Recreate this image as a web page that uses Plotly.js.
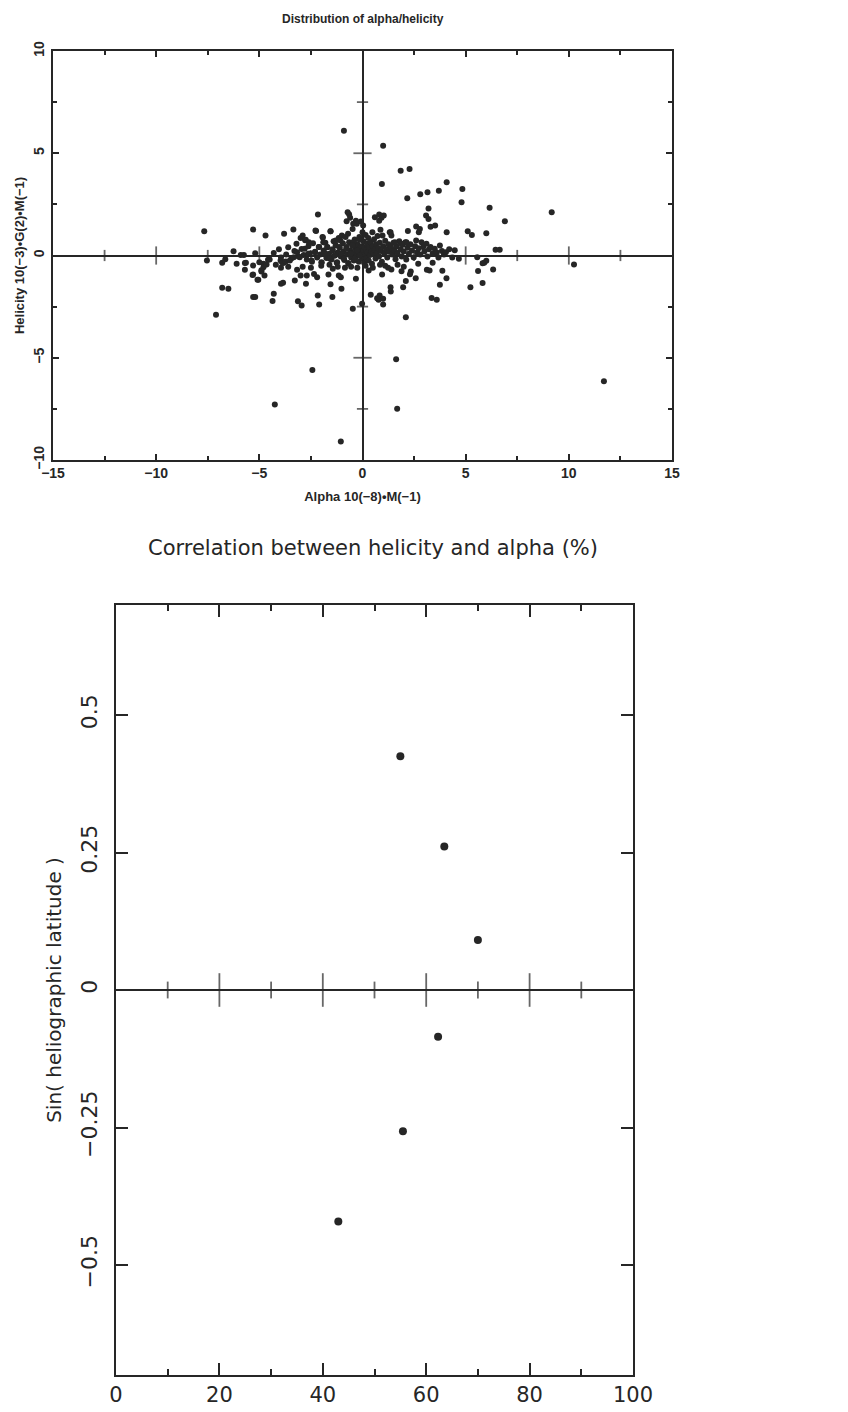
<!DOCTYPE html>
<html>
<head>
<meta charset="utf-8">
<script src="https://cdn.plot.ly/plotly-3.0.1.min.js"></script>
<style>html,body{margin:0;padding:0;background:#fff;}#chart{width:848px;height:1412px;}</style>
</head>
<body>
<div id="chart"></div>
<script>
// ---- Top panel: Distribution of alpha/helicity ----
const alphaX = [
-0.9,1.0,1.85,2.28,0.94,4.08,4.84,3.15,2.8,3.7,2.17,4.8,3.2,6.16,9.17,6.9,-2.16,-0.72,-0.65,-7.67,
-5.3,-4.7,-3.8,-3.35,5.1,5.3,6.0,4.08,3.3,3.08,3.2,2.2,2.6,2.78,2.73,3.52,6.45,6.65,4.47,4.67,
5.56,5.6,5.9,6.0,5.82,6.33,5.82,5.23,10.25,11.7,1.63,1.68,-1.05,-2.43,-4.25,-7.1,2.1,-0.47,-0.02,0.4,
0.83,0.78,1.0,1.37,1.36,1.97,2.1,3.35,3.6,3.75,4.07,3.87,3.12,3.25,2.58,2.34,2.3,1.89,1.4,1.24,
0.95,0.3,-0.32,-1.02,-1.46,-2.17,-2.1,-2.95,-3.13,-4.3,-4.36,-5.3,-5.2,-5.05,-5.3,-4.75,-5.7,-5.7,-6.1,-6.8,
-6.5,-6.8,-6.65,-7.54,-6.25,-5.9,-5.75,-5.2,-4.8,-4.8,-4.9,-4.58,-3.9,-3.8,-3.85,-3.95,-3.28,-3.0,-2.7,-3.17,
-2.35,-2.2,-1.65,-1.15,-1.05,-1.44,-2.74,-1.55,
-4.3,-4.05,-3.95,-3.7,-3.6,-3.45,-3.3,-3.2,-3.1,-3.0,-2.95,-2.85,-2.78,-2.7,-2.62,-2.55,-2.45,-2.4,-2.3,-2.25,
-2.2,-2.12,-2.05,-1.98,-1.92,-1.88,-1.8,-1.75,-1.7,-1.62,-1.55,-1.5,-1.45,-1.4,-1.35,-1.3,-1.25,-1.2,-1.15,-1.1,
-1.05,-1.0,-0.95,-0.92,-0.88,-0.82,-0.78,-0.75,-0.7,-0.68,-0.65,-0.6,-0.55,-0.5,-0.48,-0.45,-0.42,-0.38,-0.35,-0.3,
-0.28,-0.25,-0.22,-0.18,-0.15,-0.12,-0.1,-0.08,-0.05,-0.02,0.0,0.02,0.05,0.08,0.1,0.12,0.15,0.18,0.2,0.22,
0.25,0.28,0.3,0.33,0.36,0.4,0.43,0.46,0.48,0.5,0.53,0.56,0.6,0.63,0.66,0.7,0.73,0.76,0.8,0.84,
0.87,0.9,0.94,0.97,1.0,1.05,1.1,1.15,1.2,1.25,1.3,1.32,1.38,1.4,1.45,1.5,1.55,1.6,1.65,1.7,
1.78,1.85,1.9,1.95,2.0,2.08,2.12,2.18,2.25,2.32,2.4,2.48,2.55,2.6,2.65,2.72,2.8,2.86,2.94,3.0,
3.1,3.15,3.22,3.3,3.4,3.5,3.6,3.68,3.75,3.85,3.95,4.04,4.2,4.35,
-2.9,-2.5,-2.0,-1.6,-1.2,-0.85,-0.55,-0.25,0.15,0.5,0.85,1.1,1.7,2.0,2.7,3.4,-3.6,-4.2,-3.95,
0.6,0.81,0.92,1.03,0.81,-0.77,-0.6,-0.32,-0.45,0.03,1.36,-1.55,-2.28,-1.94,-2.9,-2.75,-2.6,-1.9,-1.3,-1.07,
-0.45,-0.13,2.13,1.89,1.57,
-5.65,-5.3,-5.0,-5.33,-5.09,-4.9,-4.65,-4.5,-3.97,-3.84,-3.72,-3.52,-3.33,-3.17,-3.04,-2.8,-2.63,-2.47,-2.3,-2.1,
-1.99,-1.83,-1.71,-1.58,-1.45,-1.34,-1.23,-1.13,-1.02,-0.9,-0.78,-0.69,-0.58,-0.48,-0.37,-0.26,-0.13,0.71,1.0
];
const helicityY = [
6.1,5.37,4.15,4.23,3.5,3.58,3.25,3.09,3.0,3.17,2.8,2.6,2.3,2.34,2.11,1.67,2.0,2.12,2.02,1.19,
1.27,0.98,1.06,1.27,1.19,1.0,1.09,1.14,1.4,1.95,1.78,1.2,1.42,1.3,1.14,1.47,0.28,0.28,0.26,-0.16,
-0.08,-0.76,-0.36,-0.26,-0.38,-0.68,-1.35,-1.55,-0.44,-6.15,-5.07,-7.5,-9.1,-5.6,-7.28,-2.9,-3.02,-2.6,-2.36,-1.92,
-1.95,-2.16,-2.4,-1.76,-1.55,-1.55,-1.25,-2.08,-2.16,-1.43,-1.11,-0.75,-0.7,-0.73,-1.11,-0.78,-0.92,-0.77,-0.68,-0.6,
-0.93,-0.73,-1.14,-1.63,-2.03,-1.95,-2.39,-2.44,-2.24,-1.87,-2.23,-2.03,-2.03,-1.19,-0.93,-0.98,-0.7,-0.37,-0.4,-1.58,
-1.63,-0.36,-0.18,-0.24,0.21,0.02,0.02,0.11,-0.4,-0.57,-0.72,-0.21,-0.33,-0.33,-1.33,-1.38,-1.22,-0.98,-0.98,-0.7,
-0.9,-1.06,-0.93,-0.98,-1.06,-0.65,-1.38,-1.41,
0.12,0.3,-0.1,0.05,0.4,-0.15,0.22,0.58,-0.05,0.85,0.32,0.02,0.75,-0.2,0.45,0.1,-0.3,0.6,0.18,1.2,
-0.1,0.42,0.05,-0.35,0.88,0.25,0.62,-0.12,0.4,0.08,1.18,-0.2,0.3,0.7,0.0,0.5,-0.35,0.15,0.85,0.38,
-0.05,0.98,0.6,0.2,-0.22,0.9,0.42,0.05,1.06,-0.4,0.65,0.25,-0.1,0.5,1.3,0.12,-0.25,0.78,0.35,-0.05,
1.55,0.55,0.18,-0.3,0.9,0.3,0.02,1.66,0.45,-0.15,1.14,0.22,0.7,-0.35,0.4,0.05,1.0,0.25,-0.12,0.58,
0.15,0.85,-0.25,0.38,0.02,0.65,0.2,-0.4,1.14,0.45,0.1,0.8,0.28,-0.15,0.55,0.12,0.95,0.35,-0.05,0.62,
1.26,0.22,-0.3,0.98,0.45,0.1,0.72,0.3,-0.1,0.55,0.18,1.14,0.4,0.98,0.05,0.62,0.25,-0.18,0.45,0.12,
0.7,0.3,-0.05,0.52,0.2,0.65,-0.2,0.38,0.08,0.55,0.25,-0.1,0.45,0.73,0.15,0.35,0.05,0.65,0.41,0.2,
0.57,-0.05,0.3,0.41,0.1,0.33,0.15,-0.1,0.49,0.22,0.05,0.16,0.3,-0.1,
-0.55,-0.6,-0.5,-0.45,-0.55,-0.6,-0.55,-0.6,-0.5,-0.6,-0.45,-0.5,-0.45,-0.55,-0.4,-0.35,-0.55,-0.45,-0.6,
1.87,2.0,1.84,1.96,1.7,1.68,1.84,1.7,1.55,1.47,1.14,1.19,1.22,0.9,0.98,0.77,0.65,0.65,0.73,0.73,
0.65,0.77,0.65,0.57,0.65,
-0.36,-0.49,-0.33,-0.95,-1.19,-0.78,-0.44,-0.2,-0.24,-0.37,-0.29,-0.24,-0.08,0.16,-0.08,0.33,0.08,-0.24,0.16,0.41,
-0.33,0.11,0.41,-0.16,0.24,0.0,-0.33,0.41,0.08,-0.16,0.33,-0.37,0.08,0.49,-0.16,0.24,0.0,-2.09,-2.12
];
const topXTickVals = [-15,-10,-5,0,5,10,15];
const topYTickVals = [-10,-5,0,5,10];
const topXAxisTicks = [-12.5,-10,-7.5,-5,-2.5,2.5,5,7.5,10,12.5];
const topYAxisTicks = [-7.5,-5,-2.5,2.5,5,7.5];

// ---- Bottom panel: Correlation between helicity and alpha (%) ----
const corrPercent = [55.0, 63.5, 70.0, 62.3, 55.5, 43.0];
const sinLatitude = [0.425, 0.261, 0.091, -0.085, -0.257, -0.421];
const botXTickVals = [0,20,40,60,80,100];
const botYTickVals = [-0.5,-0.25,0,0.25,0.5];
const botYTickText = ['\u22120.5','\u22120.25','0','0.25','0.5'];
const botZeroTicks = [10,20,30,40,50,60,70,80,90];

const INK = '#262626';
const W = 848, H = 1412;
const px = v => v / W, py = v => 1 - v / H;

const boldFont = {family:'Liberation Sans, Arial, sans-serif', size:14, color:INK, weight:'bold'};

const traces = [
  {x: alphaX, y: helicityY, type:'scatter', mode:'markers', xaxis:'x', yaxis:'y',
   marker:{size:6, color:INK}, hoverinfo:'x+y', showlegend:false},
  // ticks drawn across the zero lines
  {x: topXAxisTicks, y: topXAxisTicks.map(()=>0), type:'scatter', mode:'markers', xaxis:'x', yaxis:'y',
   marker:{symbol:'line-ns-open', color:INK, size: topXAxisTicks.map(v=> v%5===0 ? 13 : 8), line:{color:INK, width:1.8}},
   hoverinfo:'skip', showlegend:false},
  {x: topYAxisTicks.map(()=>0), y: topYAxisTicks, type:'scatter', mode:'markers', xaxis:'x', yaxis:'y',
   marker:{symbol:'line-ew-open', color:INK, size: topYAxisTicks.map(v=> v%5===0 ? 13 : 8), line:{color:INK, width:1.8}},
   hoverinfo:'skip', showlegend:false},
  {x: corrPercent, y: sinLatitude, type:'scatter', mode:'markers', xaxis:'x2', yaxis:'y2',
   marker:{size:8, color:INK}, hoverinfo:'x+y', showlegend:false},
  {x: botZeroTicks, y: botZeroTicks.map(()=>0), type:'scatter', mode:'markers', xaxis:'x2', yaxis:'y2',
   marker:{symbol:'line-ns-open', color:INK, size: botZeroTicks.map(v=> v%20===0 ? 24 : 12), line:{color:INK, width:1.8}},
   hoverinfo:'skip', showlegend:false}
];

const layout = {
  width: W, height: H,
  margin:{l:0,r:0,t:0,b:0},
  paper_bgcolor:'#ffffff', plot_bgcolor:'#ffffff',
  showlegend:false,
  xaxis:{domain:[px(53), px(672)], anchor:'y', range:[-15,15], tickvals: topXTickVals,
    ticks:'inside', ticklen:6, tickwidth:1.6, tickcolor:INK,
    minor:{dtick:2.5, ticks:'inside', ticklen:4, tickwidth:1.6, tickcolor:INK},
    showline:true, linewidth:2, linecolor:INK, mirror:'ticks', showgrid:false,
    zeroline:true, zerolinewidth:2, zerolinecolor:INK,
    tickfont: boldFont, ticklabelstandoff: -1,
    title:{text:'Alpha 10(\u22128)\u2022M(\u22121)', font:{family:'Liberation Sans, Arial, sans-serif', size:13, color:INK, weight:'bold'}, standoff: 12}},
  yaxis:{domain:[py(460), py(51)], anchor:'x', range:[-10,10], tickvals: topYTickVals,
    ticks:'inside', ticklen:6, tickwidth:1.6, tickcolor:INK,
    minor:{dtick:2.5, ticks:'inside', ticklen:4, tickwidth:1.6, tickcolor:INK},
    showline:true, linewidth:2, linecolor:INK, mirror:'ticks', showgrid:false,
    zeroline:true, zerolinewidth:2, zerolinecolor:INK,
    tickangle:-90, tickfont: boldFont, ticklabelstandoff: 1,
    title:{text:'Helicity 10(\u22123)\u2022G(2)\u2022M(\u22121)', font:{family:'Liberation Sans, Arial, sans-serif', size:13, color:INK, weight:'bold'}, standoff: 4}},
  xaxis2:{domain:[px(116), px(633)], anchor:'y2', range:[0,100], tickvals: botXTickVals,
    ticks:'inside', ticklen:12, tickwidth:1.6, tickcolor:INK,
    minor:{dtick:10, ticks:'inside', ticklen:6, tickwidth:1.6, tickcolor:INK},
    showline:true, linewidth:2, linecolor:INK, mirror:'ticks', showgrid:false,
    zeroline:false,
    tickfont:{family:'DejaVu Sans, sans-serif', size:21, color:INK}, ticklabelstandoff: 0},
  yaxis2:{domain:[py(1375), py(605)], anchor:'x2', range:[-0.7,0.7], tickvals: botYTickVals, ticktext: botYTickText,
    ticks:'inside', ticklen:12, tickwidth:1.6, tickcolor:INK,
    showline:true, linewidth:2, linecolor:INK, mirror:'ticks', showgrid:false,
    zeroline:true, zerolinewidth:2, zerolinecolor:INK,
    tickangle:-90, tickfont:{family:'DejaVu Sans, sans-serif', size:22, color:INK}, ticklabelstandoff: 8,
    title:{text:'Sin( heliographic latitude )', font:{family:'DejaVu Sans, sans-serif', size:20, color:INK}, standoff: 10}},
  annotations:[
    {text:'Distribution of alpha/helicity', xref:'paper', yref:'paper', x:px(363), y:py(19),
     xanchor:'center', yanchor:'middle', showarrow:false,
     font:{family:'Liberation Sans, Arial, sans-serif', size:12, color:INK, weight:'bold'}},
    {text:'Correlation between helicity and alpha (%)', xref:'paper', yref:'paper', x:px(373), y:py(548),
     xanchor:'center', yanchor:'middle', showarrow:false,
     font:{family:'DejaVu Sans, sans-serif', size:21, color:INK}}
  ]
};

Plotly.newPlot('chart', traces, layout, {displayModeBar:false, staticPlot:false});
</script>
</body>
</html>
